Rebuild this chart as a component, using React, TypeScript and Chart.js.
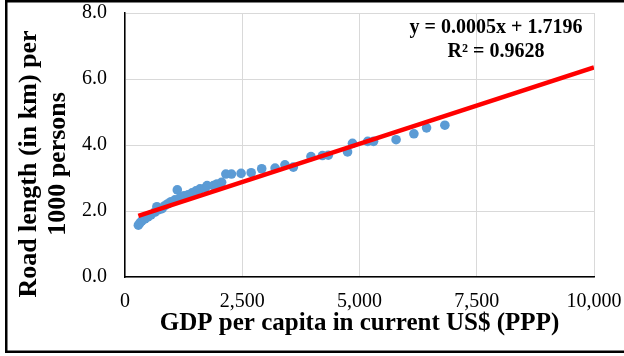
import React, { useEffect, useRef } from "react";
import { Chart, registerables } from "chart.js";

Chart.register(...registerables);

// GDP per capita (current US$, PPP) for each observation
const gdpPerCapita = [
  285, 320, 360, 425, 490, 555, 640, 680, 725, 790, 850, 915, 980, 1065, 1115,
  1175, 1260, 1345, 1430, 1515, 1600, 1705, 1750, 1885, 1960, 2060, 2150, 2270,
  2475, 2690, 2915, 3200, 3410, 3590, 3965, 4210, 4335, 4745, 4850, 5175, 5300,
  5780, 6160, 6430, 6820,
];

// Road length (km) per 1000 persons for each observation
const roadLength = [
  1.57, 1.64, 1.7, 1.76, 1.82, 1.88, 1.97, 2.13, 2.04, 2.07, 2.16, 2.22, 2.28,
  2.34, 2.64, 2.4, 2.46, 2.49, 2.55, 2.61, 2.67, 2.69, 2.77, 2.77, 2.82, 2.87,
  3.12, 3.12, 3.14, 3.16, 3.28, 3.3, 3.4, 3.33, 3.65, 3.68, 3.69, 3.79, 4.05,
  4.11, 4.11, 4.16, 4.34, 4.52, 4.6,
];

// Linear trendline, forecast forward to the end of the axis
const trendSlope = 0.000463;
const trendIntercept = 1.7196;
const rSquared = 0.9628;
const trendEndX = 10000;

const xTicks = [0, 2500, 5000, 7500, 10000];
const yTicks = [0, 2, 4, 6, 8];

const yTitleLines = ["Road length (in km) per", "1000 persons"];
const xTitle = "GDP per capita in current US$ (PPP)";

const SERIF = "'Liberation Serif', 'Times New Roman', serif";

export default function App() {
  const canvasRef = useRef<HTMLCanvasElement | null>(null);

  useEffect(() => {
    document.body.style.margin = "0";
    const canvas = canvasRef.current;
    if (!canvas) return;

    const points = gdpPerCapita.map((x, i) => ({ x, y: roadLength[i] }));
    const startX = Math.min(...gdpPerCapita);
    const trend = [
      { x: startX, y: trendIntercept + trendSlope * startX },
      { x: trendEndX, y: trendIntercept + trendSlope * trendEndX },
    ];

    const decorations = {
      id: "decorations",
      afterDraw(chart: any) {
        const ctx = chart.ctx;
        ctx.save();
        // outer frame (right edge runs past the canvas)
        ctx.strokeStyle = "#000";
        ctx.lineWidth = 2.5;
        ctx.strokeRect(6.25, 1.25, 622, 350.5);

        // rotated y-axis title
        ctx.fillStyle = "#000";
        ctx.font = `bold 26px ${SERIF}`;
        ctx.textAlign = "center";
        ctx.textBaseline = "middle";
        const cy = 164;
        yTitleLines.forEach((line, i) => {
          ctx.save();
          ctx.translate(29 + i * 29, cy);
          ctx.rotate(-Math.PI / 2);
          ctx.fillText(line, 0, 0);
          ctx.restore();
        });

        // trendline equation
        ctx.font = `bold 20px ${SERIF}`;
        ctx.fillText(
          `y = ${trendSlope.toFixed(4)}x + ${trendIntercept.toFixed(4)}`,
          496,
          28
        );
        ctx.fillText(`R\u00b2 = ${rSquared.toFixed(4)}`, 496, 52);
        ctx.restore();
      },
    };

    const chart = new Chart(canvas, {
      type: "scatter",
      data: {
        datasets: [
          {
            type: "line",
            label: "Linear trend",
            data: trend,
            borderColor: "#FF0000",
            borderWidth: 4.5,
            borderCapStyle: "butt",
            pointRadius: 0,
            fill: false,
            order: 0,
          },
          {
            label: "Road length",
            data: points,
            backgroundColor: "#5B9BD5",
            borderWidth: 0,
            pointRadius: 4.8,
            order: 1,
          },
        ],
      },
      options: {
        animation: false,
        responsive: false,
        maintainAspectRatio: false,
        events: [],
        layout: { padding: { left: 0, right: 30, top: 13, bottom: 0 } },
        plugins: {
          legend: { display: false },
          tooltip: { enabled: false },
        },
        scales: {
          x: {
            type: "linear",
            min: 0,
            max: 10000,
            afterBuildTicks(scale: any) {
              scale.ticks = xTicks.map((v) => ({ value: v }));
            },
            afterFit(scale: any) {
              scale.height = 79;
              scale.paddingLeft = 0;
              scale.paddingRight = 0;
            },
            grid: { color: "#d9d9d9", lineWidth: 1, drawTicks: false },
            border: { color: "#000", width: 1.5 },
            ticks: {
              color: "#000",
              padding: 13,
              maxRotation: 0,
              font: { family: SERIF, size: 20 },
              callback: (v: any) => Number(v).toLocaleString("en-US"),
            },
            title: {
              display: true,
              text: xTitle,
              color: "#000",
              font: { family: SERIF, size: 25, weight: "bold" },
              padding: { top: 0, bottom: 17 },
            },
          },
          y: {
            type: "linear",
            min: 0,
            max: 8,
            afterBuildTicks(scale: any) {
              scale.ticks = yTicks.map((v) => ({ value: v }));
            },
            afterFit(scale: any) {
              scale.width = 125;
              scale.paddingTop = 0;
              scale.paddingBottom = 0;
            },
            grid: { color: "#d9d9d9", lineWidth: 1, drawTicks: false },
            border: { color: "#000", width: 1.5 },
            ticks: {
              color: "#000",
              padding: 18,
              font: { family: SERIF, size: 20 },
              callback: (v: any) => Number(v).toFixed(1),
            },
          },
        },
      },
      plugins: [decorations],
    } as any);

    return () => chart.destroy();
  }, []);

  return (
    <div style={{ width: 624, height: 356, background: "#fff" }}>
      <canvas ref={canvasRef} width={624} height={356} />
    </div>
  );
}
